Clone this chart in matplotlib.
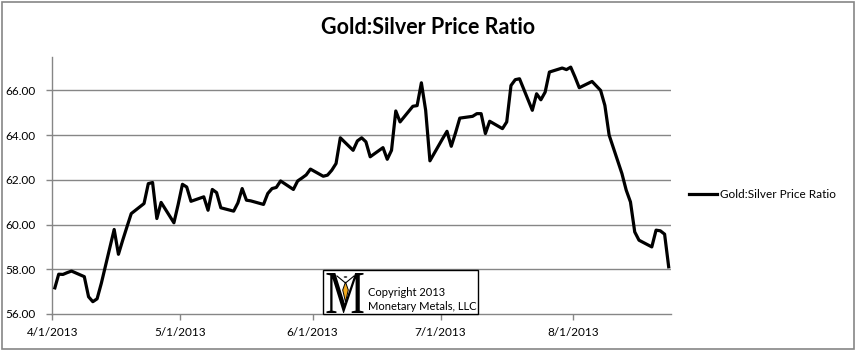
import datetime as dt

import matplotlib
matplotlib.use("Agg")
import matplotlib.pyplot as plt
import matplotlib.dates as mdates
from matplotlib.patches import Rectangle, PathPatch, Polygon, Circle
from matplotlib.lines import Line2D
from matplotlib.textpath import TextPath
from matplotlib.font_manager import FontProperties
from matplotlib.transforms import Affine2D

# ---- data -------------------------------------------------------------
trade_dates = [
    "2013-04-01", "2013-04-02", "2013-04-03", "2013-04-04", "2013-04-05",
    "2013-04-08", "2013-04-09", "2013-04-10", "2013-04-11", "2013-04-12",
    "2013-04-15", "2013-04-16", "2013-04-17", "2013-04-18", "2013-04-19",
    "2013-04-22", "2013-04-23", "2013-04-24", "2013-04-25", "2013-04-26",
    "2013-04-29", "2013-04-30",
    "2013-05-01", "2013-05-02", "2013-05-03",
    "2013-05-06", "2013-05-07", "2013-05-08", "2013-05-09", "2013-05-10",
    "2013-05-13", "2013-05-14", "2013-05-15", "2013-05-16", "2013-05-17",
    "2013-05-20", "2013-05-21", "2013-05-22", "2013-05-23", "2013-05-24",
    "2013-05-27", "2013-05-28", "2013-05-29", "2013-05-30", "2013-05-31",
    "2013-06-03", "2013-06-04", "2013-06-05", "2013-06-06", "2013-06-07",
    "2013-06-10", "2013-06-11", "2013-06-12", "2013-06-13", "2013-06-14",
    "2013-06-17", "2013-06-18", "2013-06-19", "2013-06-20", "2013-06-21",
    "2013-06-24", "2013-06-25", "2013-06-26", "2013-06-27", "2013-06-28",
    "2013-07-01", "2013-07-02", "2013-07-03", "2013-07-04", "2013-07-05",
    "2013-07-08", "2013-07-09", "2013-07-10", "2013-07-11", "2013-07-12",
    "2013-07-15", "2013-07-16", "2013-07-17", "2013-07-18", "2013-07-19",
    "2013-07-22", "2013-07-23", "2013-07-24", "2013-07-25", "2013-07-26",
    "2013-07-29", "2013-07-30", "2013-07-31",
    "2013-08-01", "2013-08-02",
    "2013-08-05", "2013-08-06", "2013-08-07", "2013-08-08", "2013-08-09",
    "2013-08-12", "2013-08-13", "2013-08-14", "2013-08-15", "2013-08-16",
    "2013-08-19", "2013-08-20", "2013-08-21", "2013-08-22", "2013-08-23",
]
ratio = [
    57.10, 57.78, 57.77, 57.85, 57.92,
    57.67, 56.77, 56.55, 56.68, 57.38,
    59.78, 58.67, 59.30, 59.90, 60.49,
    60.94, 61.83, 61.88, 60.27, 60.99,
    60.08, 60.90,
    61.80, 61.68, 61.04,
    61.24, 60.64, 61.57, 61.43, 60.75,
    60.60, 60.97, 61.61, 61.09, 61.06,
    60.90, 61.39, 61.61, 61.66, 61.95,
    61.57, 61.95, 62.08, 62.22, 62.48,
    62.16, 62.21, 62.43, 62.73, 63.88,
    63.32, 63.74, 63.88, 63.70, 63.03,
    63.44, 62.92, 63.32, 65.08, 64.59,
    65.29, 65.32, 66.34, 65.11, 62.85,
    63.85, 64.17, 63.50, 64.10, 64.76,
    64.84, 64.96, 64.96, 64.07, 64.62,
    64.29, 64.59, 66.22, 66.48, 66.52,
    65.11, 65.85, 65.58, 65.92, 66.82,
    67.00, 66.93, 67.04,
    66.60, 66.12,
    66.40, 66.20, 66.00, 65.33, 64.00,
    62.28, 61.54, 61.01, 59.67, 59.30,
    59.00, 59.75, 59.72, 59.57, 58.04,
]
y_ticks = [56, 58, 60, 62, 64, 66]
x_ticks = ["2013-04-01", "2013-05-01", "2013-06-01", "2013-07-01", "2013-08-01"]
x_start, x_end = "2013-04-01", "2013-08-24"
y_min, y_max = 56, 67.48
series_name = "Gold:Silver Price Ratio"
chart_title = "Gold:Silver Price Ratio"
copyright_lines = ["Copyright 2013", "Monetary Metals, LLC"]

# ---- style ------------------------------------------------------------
plt.rcParams["font.family"] = ["Lato", "DejaVu Sans"]
GRID = "#868686"
W, H = 856, 350


def fx(px):
    return px / W


def fy(py):
    return 1 - py / H


def to_num(s):
    return mdates.date2num(dt.datetime.strptime(s, "%Y-%m-%d"))


fig = plt.figure(figsize=(W / 100, H / 100), dpi=100)
fig.patch.set_facecolor("white")

ax = fig.add_axes([fx(52.3), fy(314), fx(671) - fx(52.3), fy(57.3) - fy(314)])

# each day is a slot on the date axis; points sit at the slot centre
xs = [to_num(d) + 0.5 for d in trade_dates]
line, = ax.plot(xs, ratio, color="black", lw=2.3,
                solid_joinstyle="round", solid_capstyle="butt", zorder=3)

ax.set_xlim(to_num(x_start), to_num(x_end))
ax.set_ylim(y_min, y_max)

ax.set_yticks(y_ticks)
ax.set_yticklabels([f"{v:.2f}" for v in y_ticks])
tick_nums = [to_num(d) for d in x_ticks]
ax.set_xticks(tick_nums)
ax.set_xticklabels([f"{mdates.num2date(t).month}/{mdates.num2date(t).day}/{mdates.num2date(t).year}"
                    for t in tick_nums])

for yv in y_ticks[1:]:
    ax.axhline(yv, color=GRID, lw=1.0, zorder=1)

for side in ("top", "right"):
    ax.spines[side].set_visible(False)
for side in ("left", "bottom"):
    ax.spines[side].set_color(GRID)
    ax.spines[side].set_linewidth(1.0)

ax.tick_params(axis="both", direction="out", length=4, width=1.0,
               color=GRID, labelsize=8.5, labelcolor="black")
ax.tick_params(axis="y", pad=8)
ax.tick_params(axis="x", pad=5)

# ---- title & legend ---------------------------------------------------
fig.text(fx(428), fy(27), chart_title, ha="center", va="center",
         fontsize=15.5, fontweight="bold")

fig.legend(handles=[Line2D([], [], color="black", lw=2.3)], labels=[series_name],
           loc="center left", bbox_to_anchor=(fx(689), fy(195)),
           frameon=False, fontsize=8.5, handlelength=2.4, handletextpad=0.25,
           borderpad=0, borderaxespad=0)

# ---- copyright badge --------------------------------------------------
badge = Rectangle((fx(323.3), fy(314)), fx(478) - fx(323.3), fy(270) - fy(314),
                  transform=fig.transFigure, facecolor="white",
                  edgecolor="black", lw=1.0, zorder=5)
fig.add_artist(badge)

m_path = TextPath((0, 0), "M", prop=FontProperties(family="Liberation Serif"))
bb = m_path.get_extents()
sx = (fx(363.5) - fx(326.5)) / bb.width
sy = (fy(273) - fy(313)) / bb.height
m_tr = Affine2D().translate(-bb.x0, -bb.y0).scale(sx, sy).translate(fx(326.5), fy(313))
fig.add_artist(PathPatch(m_tr.transform_path(m_path), transform=fig.transFigure,
                         facecolor="black", edgecolor="none", zorder=6))

# small figure with a flame inside the M
fig.add_artist(Circle((fx(345.5), fy(277)), fx(1.8), transform=fig.transFigure,
                      facecolor="black", edgecolor="none", zorder=7))
fig.add_artist(Line2D([fx(337), fx(345.5), fx(354)], [fy(276), fy(283), fy(276)],
                      transform=fig.transFigure, color="black", lw=0.8, zorder=7))
fig.add_artist(Polygon([(fx(345.5), fy(282)), (fx(348.3), fy(290)),
                        (fx(345.5), fy(302)), (fx(342.7), fy(290))],
                       closed=True, transform=fig.transFigure,
                       facecolor="#f2a91c", edgecolor="black", lw=0.7, zorder=7))

fig.text(fx(367.5), fy(292.3), copyright_lines[0], ha="left", va="center",
         fontsize=8.0, zorder=7)
fig.text(fx(367.5), fy(306.5), copyright_lines[1], ha="left", va="center",
         fontsize=8.0, zorder=7)

# ---- outer frame ------------------------------------------------------
fig.add_artist(Rectangle((fx(1.5), fy(348.5)), fx(854.5) - fx(1.5), fy(1.5) - fy(348.5),
                         transform=fig.transFigure, fill=False,
                         edgecolor=GRID, lw=1.2, zorder=8))

fig.savefig("out.png", dpi=100, facecolor="white")
